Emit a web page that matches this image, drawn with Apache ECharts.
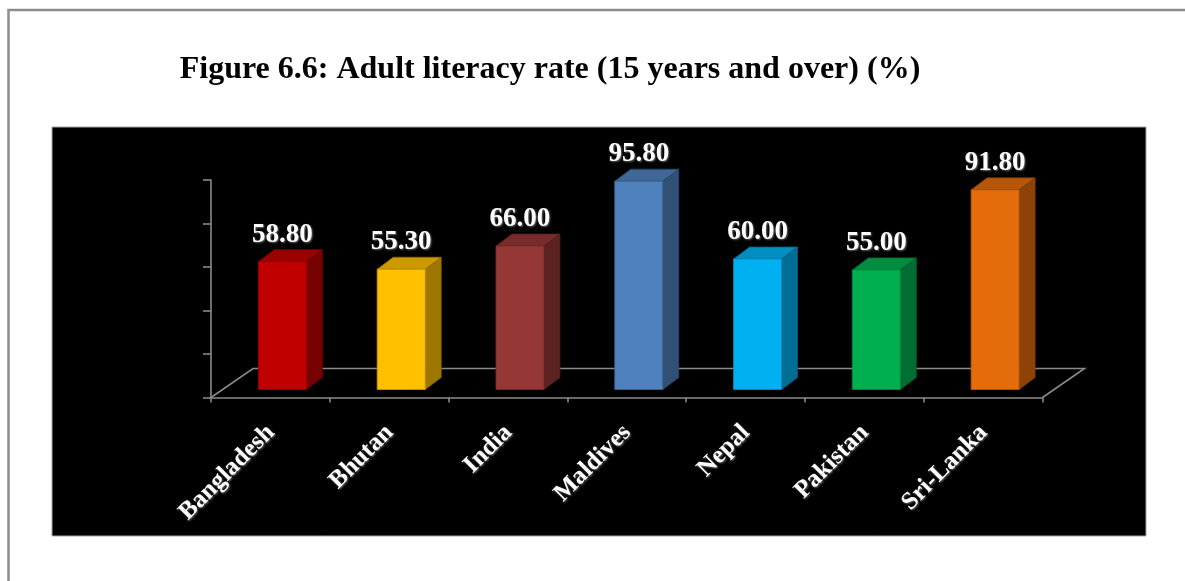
<!DOCTYPE html>
<html>
<head>
<meta charset="utf-8">
<title>Adult literacy rate</title>
<script src="https://cdn.jsdelivr.net/npm/echarts@6/dist/echarts.min.js"></script>
<style>
  html, body { margin: 0; padding: 0; background: #fff; }
  #chart { width: 1185px; height: 581px; }
</style>
</head>
<body>
<div id="chart"></div>
<script>
// Countries and adult literacy rate (%), 15 years and over
const countries = ['Bangladesh', 'Bhutan', 'India', 'Maldives', 'Nepal', 'Pakistan', 'Sri-Lanka'];
const literacyRate = [58.80, 55.30, 66.00, 95.80, 60.00, 55.00, 91.80];
const barColors = ['#C00000', '#FFC000', '#953735', '#4F81BD', '#00B0F0', '#00B050', '#E46C0A'];
const yTicks = [0, 20, 40, 60, 80, 100];

const SERIF = "'Liberation Serif', 'Times New Roman', serif";
const AXIS_GREY = '#8a8a8a';

// pseudo-3D geometry (pixels)
const FLOOR_DEPTH = [42, -29];   // depth of the floor plane
const FRONT_SHIFT = [12, -8];    // front face of each bar sits inside the floor
const SIDE_DEPTH = [16, -12];    // thickness of a bar
const BAR_RATIO = 0.404;         // bar width / category band

function shade(hex, f) {
  const n = parseInt(hex.slice(1), 16);
  const r = Math.round(((n >> 16) & 255) * f);
  const g = Math.round(((n >> 8) & 255) * f);
  const b = Math.round((n & 255) * f);
  return 'rgb(' + r + ',' + g + ',' + b + ')';
}

function renderFloor(params, api) {
  const band = api.size([1, 0])[0];
  const left = api.coord([0, 0]);
  const right = api.coord([countries.length - 1, 0]);
  const x0 = left[0] - band / 2, x1 = right[0] + band / 2, y = left[1];
  const [dx, dy] = FLOOR_DEPTH;
  return {
    type: 'polyline',
    shape: { points: [[x0, y], [x0 + dx, y + dy], [x1 + dx, y + dy], [x1, y]] },
    style: { stroke: AXIS_GREY, lineWidth: 1.6, fill: null },
    silent: true
  };
}

function renderBar(params, api) {
  const i = params.dataIndex;
  const v = api.value(1);
  const base = api.coord([i, 0]);
  const top = api.coord([i, v]);
  const band = api.size([1, 0])[0];
  const w = band * BAR_RATIO;
  const x0 = base[0] + FRONT_SHIFT[0] - w / 2;
  const x1 = x0 + w;
  const yb = base[1] + FRONT_SHIFT[1];
  const yt = top[1] + FRONT_SHIFT[1];
  const [dx, dy] = SIDE_DEPTH;
  const c = barColors[i];
  const edge = shade(c, 0.55);
  return {
    type: 'group',
    children: [
      {
        type: 'polygon',
        shape: { points: [[x1, yt], [x1 + dx, yt + dy], [x1 + dx, yb + dy], [x1, yb]] },
        style: { fill: shade(c, 0.62), stroke: edge, lineWidth: 0.8 }
      },
      {
        type: 'polygon',
        shape: { points: [[x0, yt], [x0 + dx, yt + dy], [x1 + dx, yt + dy], [x1, yt]] },
        style: { fill: shade(c, 0.8), stroke: edge, lineWidth: 0.8 }
      },
      {
        type: 'rect',
        shape: { x: x0, y: yt, width: w, height: yb - yt },
        style: { fill: c, stroke: shade(c, 0.8), lineWidth: 0.8 }
      },
      {
        type: 'text',
        x: (x0 + x1) / 2,
        y: yt - 27,
        style: {
          text: v.toFixed(2),
          fill: '#ffffff',
          font: 'bold 27px ' + SERIF,
          align: 'center',
          verticalAlign: 'middle',
          textShadowColor: 'rgba(150,150,150,0.7)',
          textShadowBlur: 2,
          textShadowOffsetX: 1,
          textShadowOffsetY: 1
        }
      }
    ]
  };
}

const chart = echarts.init(document.getElementById('chart'), null, { renderer: 'canvas' });

chart.setOption({
  backgroundColor: '#ffffff',
  animation: false,
  title: {
    text: 'Figure 6.6: Adult literacy rate (15 years and over) (%)',
    left: 545,
    top: 49,
    textAlign: 'center',
    textStyle: { fontFamily: SERIF, fontWeight: 'bold', fontSize: 32, color: '#000' }
  },
  graphic: [
    {
      type: 'rect', z: -10, silent: true,
      shape: { x: 8.5, y: 10, width: 1200, height: 620 },
      style: { fill: '#ffffff', stroke: '#8c8c8c', lineWidth: 2.5 }
    },
    {
      type: 'rect', z: -9, silent: true,
      shape: { x: 52, y: 127, width: 1094, height: 409 },
      style: { fill: '#000000', stroke: '#a6a6a6', lineWidth: 1 }
    }
  ],
  grid: { left: 211, right: 142.5, top: 180, bottom: 183.5, containLabel: false },
  xAxis: {
    type: 'category',
    data: countries,
    boundaryGap: true,
    axisLine: { show: true, lineStyle: { color: AXIS_GREY, width: 1.6 } },
    axisTick: { show: true, length: 5, lineStyle: { color: AXIS_GREY, width: 1.6 } },
    axisLabel: {
      interval: 0,
      rotate: 45,
      margin: 14,
      align: 'right',
      verticalAlign: 'top',
      padding: [0, 12, 0, 0],
      color: '#ffffff',
      fontFamily: SERIF,
      fontWeight: 'bold',
      fontSize: 25,
      textShadowColor: 'rgba(150,150,150,0.7)',
      textShadowBlur: 2,
      textShadowOffsetX: 1,
      textShadowOffsetY: 1
    },
    splitLine: { show: false }
  },
  yAxis: {
    type: 'value',
    min: yTicks[0],
    max: yTicks[yTicks.length - 1],
    interval: yTicks[1] - yTicks[0],
    axisLine: { show: true, lineStyle: { color: AXIS_GREY, width: 1.6 } },
    axisTick: { show: true, length: 8, lineStyle: { color: AXIS_GREY, width: 1.6 } },
    axisLabel: { show: false },
    splitLine: { show: false }
  },
  series: [
    {
      type: 'custom',
      name: 'floor',
      renderItem: renderFloor,
      data: [[0, 0]],
      z: 1,
      silent: true
    },
    {
      type: 'custom',
      name: 'Adult literacy rate',
      renderItem: renderBar,
      data: literacyRate.map((v, i) => [i, v]),
      encode: { x: 0, y: 1 },
      z: 2
    }
  ]
});
</script>
</body>
</html>
